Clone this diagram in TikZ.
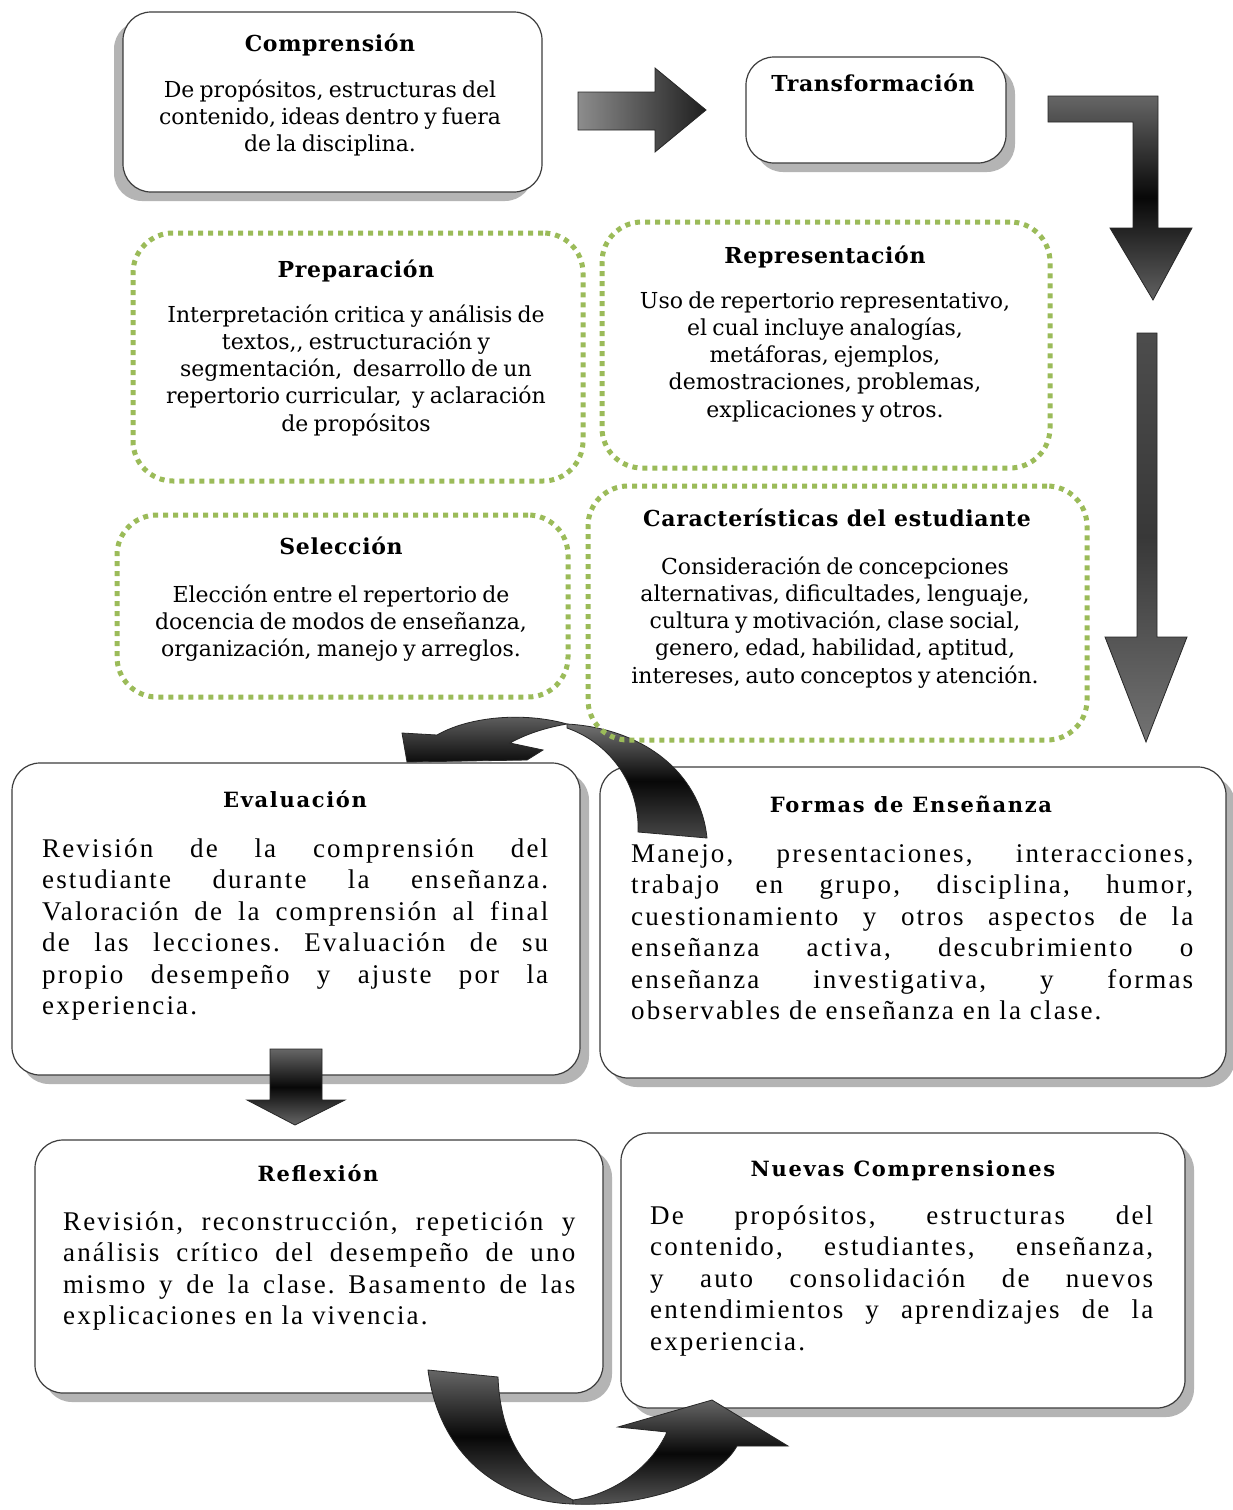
\documentclass[tikz,border=0pt]{standalone}
\usepackage{fontspec}
\setmainfont{Liberation Serif}
\newfontfamily\slab{DejaVu Serif}[WordSpace=0.75]
\newfontfamily\slabtitle{DejaVu Serif}[LetterSpace=3]
\newfontfamily\widetitle{DejaVu Serif}[LetterSpace=8]
\newfontfamily\widebody{Liberation Serif}[LetterSpace=8]
\usetikzlibrary{shadows}

\definecolor{dotgreen}{HTML}{9BBB59}
\definecolor{boxline}{HTML}{3C3C3C}
\definecolor{shadowgray}{HTML}{B4B4B4}

% one justified line of a block paragraph
\newcommand\jline[1]{\makebox[\linewidth][s]{#1}\\}

\begin{document}
\frenchspacing
\begin{tikzpicture}[x=1pt,y=-1pt,
  solidbox/.style={draw=boxline, line width=1.2pt, rounded corners=28pt, fill=white, inner sep=0pt},
  shadowrb/.style={drop shadow={shadow xshift=9pt, shadow yshift=-9pt, fill=shadowgray, opacity=1}},
  shadowlb/.style={drop shadow={shadow xshift=-9pt, shadow yshift=-9pt, fill=shadowgray, opacity=1}},
  dotbox/.style={draw=dotgreen, line width=5pt, dash pattern=on 5pt off 5pt, rounded corners=40pt, inner sep=0pt},
  toptitle/.style={anchor=base, inner sep=0pt, font=\slabtitle\bfseries\fontsize{22}{26}\selectfont},
  lowtitle/.style={anchor=base, inner sep=0pt, font=\widetitle\bfseries\fontsize{21}{25}\selectfont},
  centerbody/.style={anchor=base, inner sep=0pt, font=\slab\fontsize{22}{27.3}\selectfont},
  justbody/.style={anchor=base west, inner sep=0pt, font=\widebody\fontsize{27}{31.5}\selectfont},
  blockarrow/.style={draw=black!85, line width=0.8pt},
]
\useasboundingbox (0,0) rectangle (1233,1510);
\fill[white] (0,0) rectangle (1233,1510);

% ---------- solid boxes ----------
\node[solidbox, shadowlb, minimum width=419pt, minimum height=180pt] (comp) at (332.5,102) {};
\node[solidbox, shadowrb, minimum width=260pt, minimum height=106pt] (trans) at (876,110) {};
\node[solidbox, shadowrb, minimum width=568pt, minimum height=312pt] (eval) at (296,919) {};
\node[solidbox, shadowrb, minimum width=626pt, minimum height=311pt] (formas) at (913,922.5) {};
\node[solidbox, shadowrb, minimum width=568pt, minimum height=253pt] (refl) at (319,1266.5) {};
\node[solidbox, shadowrb, minimum width=564pt, minimum height=275pt] (nuevas) at (903,1270.5) {};

% ---------- straight block arrows ----------
\shade[blockarrow, left color=black!45, right color=black!88]
  (578,92) -- (655,92) -- (655,68) -- (706,110) -- (655,152) -- (655,130) -- (578,130) -- cycle;
\shade[blockarrow, top color=black!60, bottom color=black!62, middle color=black!97]
  (1048,96) -- (1158,96) -- (1158,228) -- (1192,228) -- (1153,300) -- (1110,228)
  -- (1133,228) -- (1133,122) -- (1048,122) -- cycle;
\shade[blockarrow, top color=black!70, bottom color=black!55, middle color=black!78]
  (1137,333) -- (1157,333) -- (1157,637) -- (1187,637) -- (1146,742) -- (1105,637)
  -- (1137,637) -- cycle;
\shade[blockarrow, top color=black!60, bottom color=black!60, middle color=black!97]
  (270,1049) -- (322,1049) -- (322,1100) -- (345,1100) -- (295,1125) -- (247,1100)
  -- (270,1100) -- cycle;

% ---------- curved arrow from Formas de Enseñanza back to Evaluación ----------
\shade[blockarrow, top color=black!60, bottom color=black!95]
  (567,724) .. controls (525,712) and (470,716) .. (437,735) -- (402,733) -- (407,762)
  -- (527,760) -- (543,750) -- (510,743) .. controls (530,732) and (550,727) .. (567,724) -- cycle;
\shade[blockarrow, top color=black!55, bottom color=black!72, middle color=black!97]
  (567,724) .. controls (640,728) and (700,770) .. (707,838) -- (638,832)
  .. controls (640,790) and (615,745) .. (567,728) -- cycle;

% ---------- curved arrow from Reflexión to Nuevas Comprensiones ----------
\shade[blockarrow, top color=black!60, bottom color=black!65, middle color=black!97]
  (428,1370) -- (498,1377) .. controls (500,1430) and (520,1475) .. (573,1500)
  -- (573,1504) .. controls (505,1502) and (440,1460) .. (428,1370) -- cycle;
\shade[blockarrow, top color=black!60, bottom color=black!65, middle color=black!97]
  (573,1500) .. controls (610,1495) and (650,1470) .. (667,1432) -- (618,1427)
  -- (712,1400) -- (788,1446) -- (737,1446)
  .. controls (715,1485) and (640,1507) .. (573,1504) -- cycle;

% ---------- dotted boxes ----------
\node[dotbox, minimum width=450pt, minimum height=248pt] (prep) at (358,357) {};
\node[dotbox, minimum width=448pt, minimum height=246pt] (repr) at (826,345) {};
\node[dotbox, minimum width=451pt, minimum height=182pt] (sel) at (342.5,606) {};
\node[dotbox, minimum width=499pt, minimum height=254pt] (carac) at (837.5,613) {};

% ---------- titles ----------
\node[toptitle] (compT) at (330,51) {Comprensión};
\node[toptitle] (transT) at (873,91) {Transformación};
\node[toptitle] (prepT) at (356,277) {Preparación};
\node[toptitle] (reprT) at (825,263) {Representación};
\node[toptitle] (selT) at (341,554) {Selección};
\node[toptitle] (caracT) at (837,526) {Características del estudiante};
\node[lowtitle] (evalT) at (295,807) {Evaluación};
\node[lowtitle] (formasT) at (911,812) {Formas de Enseñanza};
\node[lowtitle] (reflT) at (318,1181) {Reflexión};
\node[lowtitle] (nuevasT) at (903,1176) {Nuevas Comprensiones};

% ---------- centred texts ----------
\node[centerbody] (compB) at (330,97) {\parbox[t]{430pt}{\centering
  De propósitos, estructuras del\\
  contenido, ideas dentro y fuera\\
  de la disciplina.}};
\node[centerbody] (prepB) at (356,322) {\parbox[t]{440pt}{\centering
  Interpretación critica y análisis de\\
  textos,, estructuración y\\
  segmentación,\ \ desarrollo de un\\
  repertorio curricular,\ \ y aclaración\\
  de propósitos}};
\node[centerbody] (reprB) at (825,308) {\parbox[t]{440pt}{\centering
  Uso de repertorio representativo,\\
  el cual incluye analogías,\\
  metáforas, ejemplos,\\
  demostraciones, problemas,\\
  explicaciones y otros.}};
\node[centerbody] (selB) at (341,602) {\parbox[t]{440pt}{\centering
  Elección entre el repertorio de\\
  docencia de modos de enseñanza,\\
  organización, manejo y arreglos.}};
\node[centerbody] (caracB) at (835,574) {\parbox[t]{490pt}{\centering
  Consideración de concepciones\\
  alternativas, dificultades, lenguaje,\\
  cultura y motivación, clase social,\\
  genero, edad, habilidad, aptitud,\\
  intereses, auto conceptos y atención.}};

% ---------- justified texts ----------
\node[justbody] (evalB) at (42,857) {\parbox[t]{506pt}{%
  \jline{Revisión de la comprensión del}
  \jline{estudiante durante la enseñanza.}
  \jline{Valoración de la comprensión al final}
  \jline{de las lecciones. Evaluación de su}
  \jline{propio desempeño y ajuste por la}
  experiencia.}};
\node[justbody] (formasB) at (631,862) {\parbox[t]{562pt}{%
  \jline{Manejo, presentaciones, interacciones,}
  \jline{trabajo en grupo, disciplina, humor,}
  \jline{cuestionamiento y otros aspectos de la}
  \jline{enseñanza activa, descubrimiento o}
  \jline{enseñanza investigativa, y formas}
  observables de enseñanza en la clase.}};
\node[justbody] (reflB) at (63,1230) {\parbox[t]{512pt}{%
  \jline{Revisión, reconstrucción, repetición y}
  \jline{análisis crítico del desempeño de uno}
  \jline{mismo y de la clase. Basamento de las}
  explicaciones en la vivencia.}};
\node[justbody] (nuevasB) at (650,1224) {\parbox[t]{503pt}{%
  \jline{De propósitos, estructuras del}
  \jline{contenido, estudiantes, enseñanza,}
  \jline{y auto consolidación de nuevos}
  \jline{entendimientos y aprendizajes de la}
  experiencia.}};
\end{tikzpicture}
\end{document}
